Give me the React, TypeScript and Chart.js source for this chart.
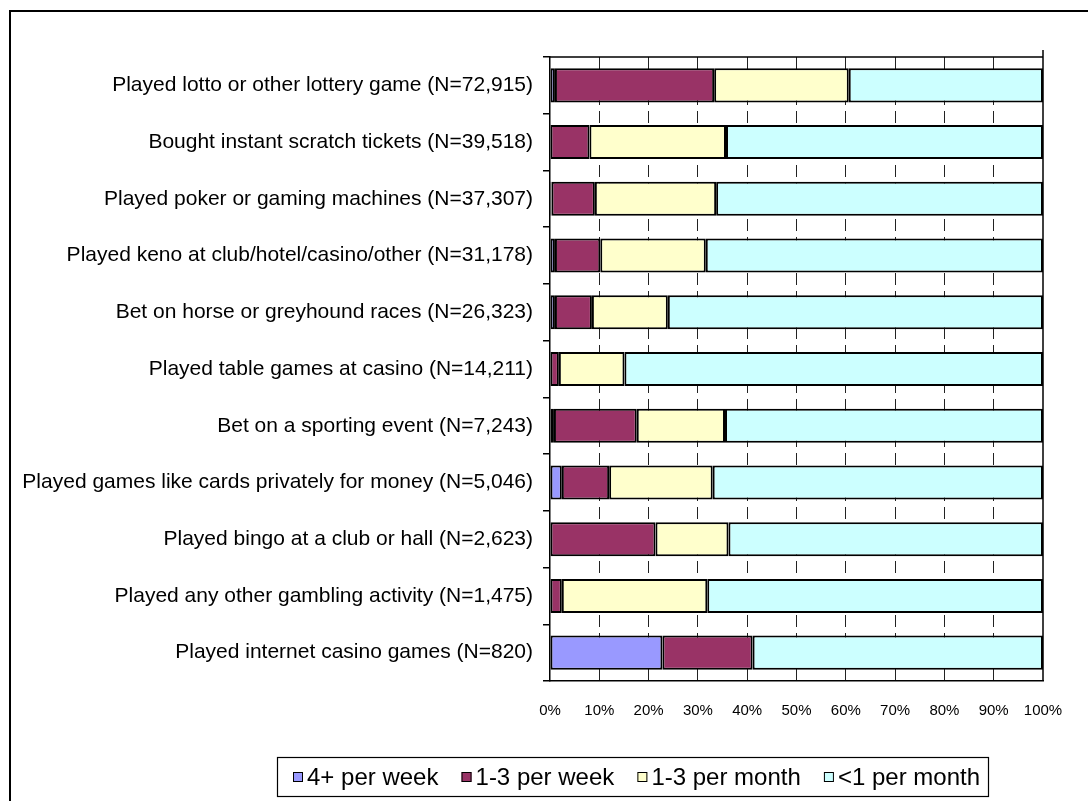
import React, { useEffect, useRef } from "react";
import { Chart, registerables } from "chart.js";

Chart.register(...registerables);

// Gambling activities, with number of participants
const categories = [
  "Played lotto or other lottery game (N=72,915)",
  "Bought instant scratch tickets (N=39,518)",
  "Played poker or gaming machines (N=37,307)",
  "Played keno at club/hotel/casino/other (N=31,178)",
  "Bet on horse or greyhound races (N=26,323)",
  "Played table games at casino (N=14,211)",
  "Bet on a sporting event (N=7,243)",
  "Played games like cards privately for money (N=5,046)",
  "Played bingo at a club or hall (N=2,623)",
  "Played any other gambling activity (N=1,475)",
  "Played internet casino games (N=820)",
];

// Frequency shares (% of participants)
const fourPlusPerWeek = [1.0, 0, 0.3, 1.0, 1.0, 0, 0.8, 2.4, 0, 0, 22.8];
const oneToThreePerWeek = [32.3, 8.0, 8.8, 9.2, 7.5, 1.8, 16.8, 9.6, 21.4, 2.4, 18.3];
const oneToThreePerMonth = [27.3, 27.7, 24.6, 21.4, 15.4, 13.3, 17.9, 21.0, 14.8, 29.5, 0];
const lessThanOnePerMonth = [39.4, 64.3, 66.3, 68.4, 76.1, 84.9, 64.5, 67.0, 63.8, 68.1, 58.9];

const seriesLabels = ["4+ per week", "1-3 per week", "1-3 per month", "<1 per month"];
const seriesColors = ["#9999FF", "#993366", "#FFFFCC", "#CCFFFF"];

const W = 1088;
const H = 801;

// Outer frame, plot frame and boxed legend
const framePlugin = {
  id: "frame",
  beforeDraw(chart: any) {
    const { ctx } = chart;
    ctx.save();
    ctx.fillStyle = "#ffffff";
    ctx.fillRect(0, 0, W, H);
    ctx.strokeStyle = "#000";
    ctx.lineWidth = 2;
    ctx.strokeRect(10, 11, W + 20, H + 20);
    ctx.restore();
  },
  afterDraw(chart: any) {
    const { ctx, chartArea } = chart;
    ctx.save();
    ctx.strokeStyle = "#000";
    ctx.lineWidth = 1.5;
    ctx.beginPath();
    ctx.moveTo(chartArea.left, chartArea.top);
    ctx.lineTo(chartArea.right, chartArea.top);
    ctx.moveTo(chartArea.right, chartArea.top - 7);
    ctx.lineTo(chartArea.right, chartArea.bottom);
    ctx.stroke();

    // legend
    const box = { x: 277, y: 757, w: 711, h: 39 };
    ctx.lineWidth = 1.2;
    ctx.strokeRect(box.x + 0.5, box.y + 0.5, box.w, box.h);
    ctx.font = "24px 'Liberation Sans', Arial, sans-serif";
    ctx.textBaseline = "middle";
    ctx.textAlign = "left";
    const ds = chart.data.datasets;
    const widths = ds.map((d: any) => ctx.measureText(d.label).width);
    const startX = 293;
    const endX = 980;
    const marker = 10;
    const mgap = 4;
    const total = widths.reduce((a: number, b: number) => a + b, 0) + ds.length * (marker + mgap);
    const gap = (endX - startX - total) / (ds.length - 1);
    let x = startX;
    const cy = 777;
    ds.forEach((d: any, i: number) => {
      ctx.fillStyle = d.backgroundColor;
      ctx.fillRect(x, cy - 5, marker, marker);
      ctx.strokeStyle = "#000";
      ctx.lineWidth = 1;
      ctx.strokeRect(x + 0.5, cy - 5 + 0.5, marker - 1, marker - 1);
      ctx.fillStyle = "#000";
      ctx.fillText(d.label, x + marker + mgap, cy + 1);
      x += marker + mgap + widths[i] + gap;
    });
    ctx.restore();
  },
};

export default function App() {
  const ref = useRef<HTMLCanvasElement | null>(null);

  useEffect(() => {
    if (!ref.current) return;
    const values = [fourPlusPerWeek, oneToThreePerWeek, oneToThreePerMonth, lessThanOnePerMonth];
    const chart = new Chart(ref.current, {
      type: "bar",
      data: {
        labels: categories,
        datasets: seriesLabels.map((label, i) => ({
          label,
          data: values[i],
          backgroundColor: seriesColors[i],
          borderColor: "#000",
          borderWidth: 2,
          borderSkipped: false,
          categoryPercentage: 0.6,
          barPercentage: 1,
        })),
      },
      options: {
        indexAxis: "y",
        responsive: false,
        animation: false,
        layout: { padding: { top: 57, right: 45, left: 0, bottom: 0 } },
        plugins: {
          legend: { display: false },
          tooltip: { enabled: false },
        },
        scales: {
          x: {
            stacked: true,
            min: 0,
            max: 100,
            afterFit(scale: any) {
              scale.height = 120;
            },
            ticks: {
              stepSize: 10,
              padding: 21,
              color: "#000",
              font: { family: "'Liberation Sans', Arial, sans-serif", size: 15 },
              callback: (v: any) => v + "%",
            },
            grid: {
              drawTicks: false,
              color: (c: any) => (c.index === 0 || c.index === 10 ? "transparent" : "#222"),
              lineWidth: 1,
              tickLength: 0,
            },
            border: { display: true, color: "#000", width: 1.5, dash: [12, 6] },
          },
          y: {
            stacked: true,
            afterFit(scale: any) {
              scale.width = 550;
            },
            ticks: {
              padding: 10,
              color: "#000",
              font: { family: "'Liberation Sans', Arial, sans-serif", size: 21 },
            },
            grid: {
              offset: true,
              drawOnChartArea: false,
              drawTicks: true,
              tickLength: 7,
              color: "#000",
              lineWidth: 1.5,
            },
            border: { display: true, color: "#000", width: 1.5 },
          },
        },
      },
      plugins: [framePlugin],
    } as any);
    return () => chart.destroy();
  }, []);

  return (
    <canvas
      ref={ref}
      width={W}
      height={H}
      style={{ position: "absolute", left: 0, top: 0, width: W, height: H, display: "block" }}
    />
  );
}
